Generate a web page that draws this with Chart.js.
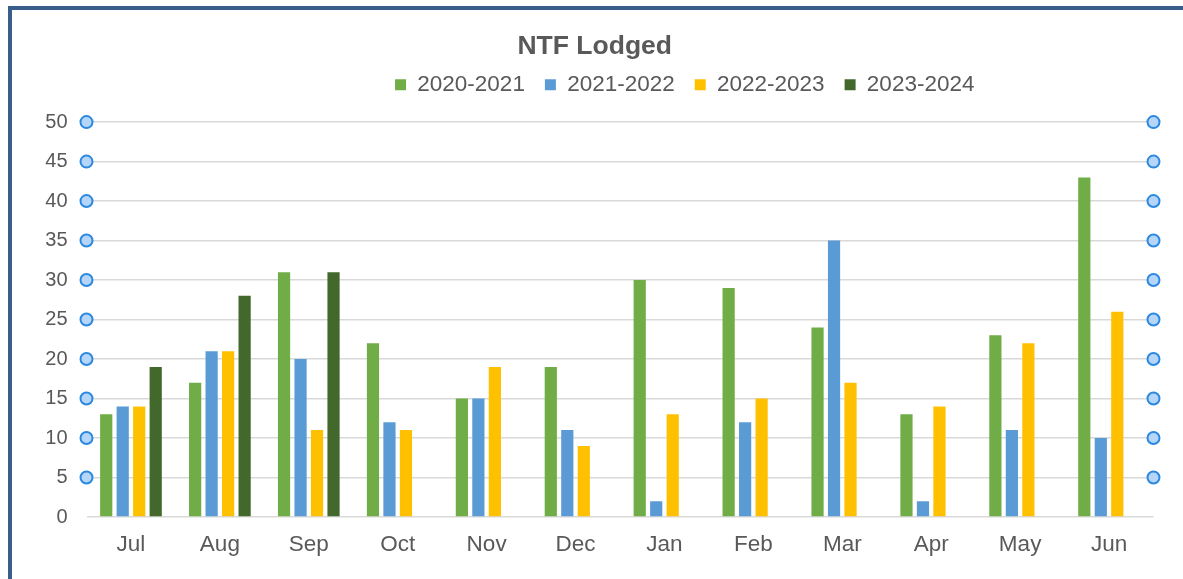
<!DOCTYPE html>
<html>
<head>
<meta charset="utf-8">
<script src="https://cdn.jsdelivr.net/npm/chart.js@4"></script>
<style>
  html, body { margin: 0; padding: 0; background: #ffffff; }
  #wrap { position: relative; width: 1183px; height: 579px; overflow: hidden; }
  #c { position: absolute; left: 0; top: 0; }
  #frame { position: absolute; left: 8px; top: 6px; width: 1200px; height: 571px;
           border-top: 4px solid #3A5E8C; border-left: 4px solid #3A5E8C;
           border-bottom: 1px solid #e6e6e6; pointer-events: none; }
</style>
</head>
<body>
<div id="wrap">
  <canvas id="c" width="1183" height="579"></canvas>
  <div id="frame"></div>
</div>
<script>
const months = ['Jul','Aug','Sep','Oct','Nov','Dec','Jan','Feb','Mar','Apr','May','Jun'];
const seriesNames = ['2020-2021','2021-2022','2022-2023','2023-2024'];
const fy2021 = [13, 17, 31, 22, 15, 19, 30, 29, 24, 13, 23, 43];
const fy2122 = [14, 21, 20, 12, 15, 11, 2, 12, 35, 2, 11, 10];
const fy2223 = [14, 21, 11, 11, 19, 9, 13, 15, 17, 14, 22, 26];
const fy2324 = [19, 28, 31, null, null, null, null, null, null, null, null, null];
const colors = ['#70AD47', '#5B9BD5', '#FFC000', '#43682B'];
const yTicksMax = 50;
const yTickStep = 5;

const textColor = '#595959';
const fontFamily = '"Liberation Sans", Arial, sans-serif';

const handlesPlugin = {
  id: 'handles',
  afterLayout(chart) {
    const lg = chart.legend;
    if (lg) { lg.left += 108; lg.right += 108; lg.top -= 16; lg.bottom -= 16; }
    const tb = chart.titleBlock;
    if (tb) { tb.left += 18; tb.right += 18; }
  },
  afterDraw(chart) {
    const y = chart.scales.y;
    const area = chart.chartArea;
    const ctx = chart.ctx;
    ctx.save();
    y.ticks.forEach(t => {
      if (t.value === 0) return;
      const py = y.getPixelForValue(t.value);
      [area.left, area.right].forEach(px => {
        ctx.beginPath();
        ctx.arc(px, py, 6, 0, Math.PI * 2);
        ctx.fillStyle = '#B5D6F8';
        ctx.fill();
        ctx.lineWidth = 2;
        ctx.strokeStyle = '#2B88E0';
        ctx.stroke();
      });
    });
    ctx.restore();
  }
};

const datasets = [fy2021, fy2122, fy2223, fy2324].map((d, i) => ({
  label: seriesNames[i],
  data: d,
  backgroundColor: colors[i],
  borderWidth: 0,
  categoryPercentage: 0.742,
  barPercentage: 0.74
}));

new Chart(document.getElementById('c'), {
  type: 'bar',
  data: { labels: months, datasets },
  plugins: [handlesPlugin],
  options: {
    responsive: false,
    animation: false,
    devicePixelRatio: 1,
    layout: { padding: { left: 0, right: 29.5, top: 0, bottom: 0 } },
    plugins: {
      tooltip: { enabled: false },
      title: {
        display: true,
        text: 'NTF Lodged',
        color: textColor,
        font: { family: fontFamily, size: 26.5, weight: 'bold', lineHeight: 1.2 },
        padding: { top: 30.4, bottom: 7.4 }
      },
      legend: {
        display: true,
        position: 'top',
        labels: {
          color: textColor,
          font: { family: fontFamily, size: 22.5 },
          boxWidth: 11,
          boxHeight: 11,
          padding: 20
        }
      }
    },
    scales: {
      x: {
        grid: { display: false, drawTicks: false },
        border: { display: false },
        ticks: { color: textColor, font: { family: fontFamily, size: 22.5 }, padding: 14 },
        afterFit(s) { s.height = 62; }
      },
      y: {
        min: 0,
        max: yTicksMax,
        grid: { color: '#D9D9D9', lineWidth: 1.5, drawTicks: false },
        border: { display: false },
        ticks: { stepSize: yTickStep, color: textColor, font: { family: fontFamily, size: 20 }, padding: 19 },
        afterFit(s) { s.width = 86.5; }
      }
    }
  }
});
</script>
</body>
</html>
